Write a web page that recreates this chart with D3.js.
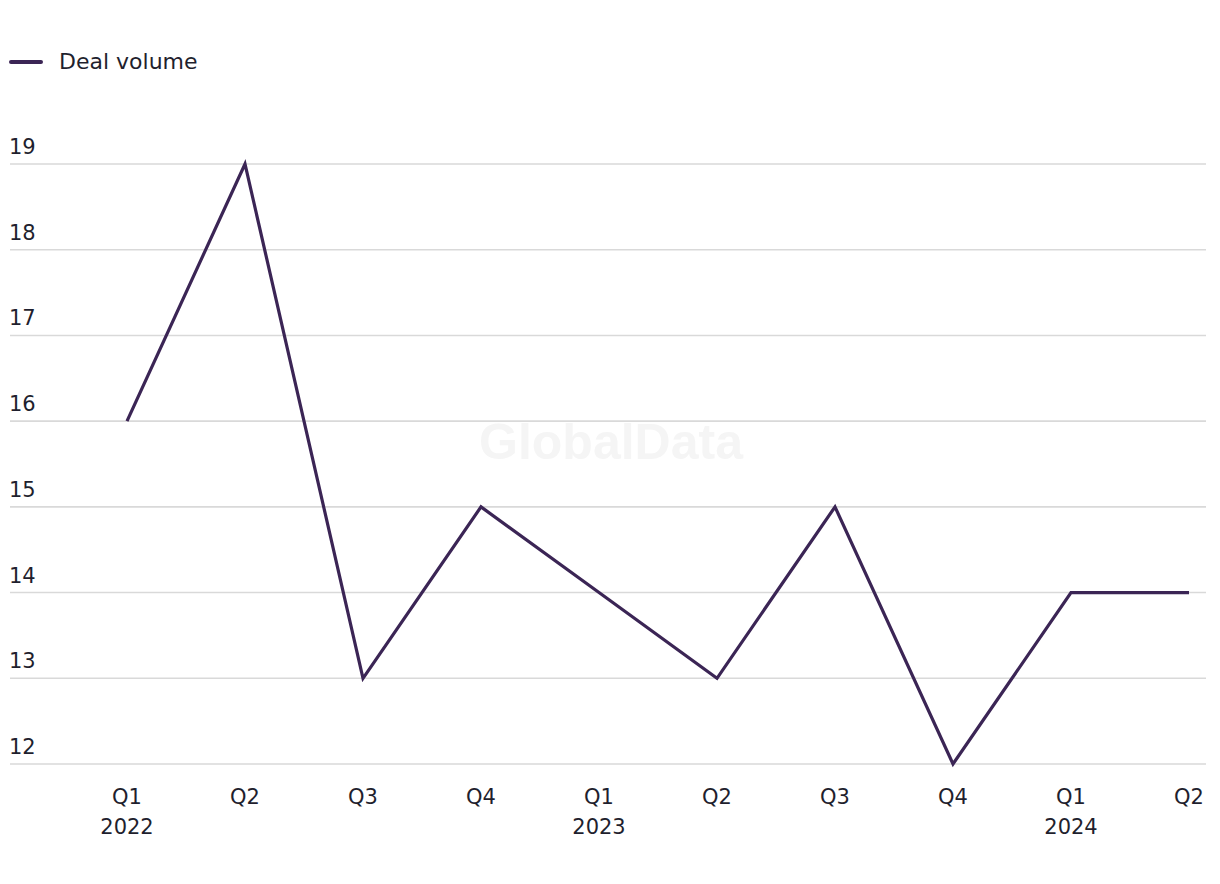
<!DOCTYPE html>
<html><head><meta charset="utf-8">
<script src="https://cdn.jsdelivr.net/npm/d3@7"></script>
<style>body{margin:0;background:#fff;} svg{display:block;font-family:"DejaVu Sans",sans-serif;}</style>
</head><body>
<svg id="chart" width="1220" height="884"></svg>
<script>
const quarters = ["Q1","Q2","Q3","Q4","Q1","Q2","Q3","Q4","Q1","Q2"];
const years = ["2022","","","","2023","","","","2024",""];
const dealVolume = [16,19,13,15,14,13,15,12,14,14];
const yTicks = [12,13,14,15,16,17,18,19];
const seriesName = "Deal volume";

const svg = d3.select("#chart");
const color = "#3b2555";
const textColor = "#1f1f2e";
const idx = d3.range(quarters.length);
const x = d3.scalePoint().domain(idx).range([127,1189]);
const y = d3.scaleLinear().domain([12,19]).range([764,164]);

// watermark
svg.append("text").attr("x",611).attr("y",459).attr("text-anchor","middle")
  .attr("font-family","Liberation Sans, Arial, sans-serif")
  .attr("font-size",50).attr("font-weight","bold").attr("fill","#f5f5f5").text("GlobalData");

// grid
svg.append("g").selectAll("line").data(yTicks).join("line")
  .attr("x1",10).attr("x2",1206).attr("y1",d=>y(d)).attr("y2",d=>y(d))
  .attr("stroke","#d9d9d9").attr("stroke-width",1.6);
svg.append("g").selectAll("text").data(yTicks).join("text")
  .attr("x",9).attr("y",d=>y(d)-10).attr("font-size",21).attr("fill",textColor).text(d=>d);

// x labels
const xg = svg.append("g");
xg.selectAll("text.q").data(idx).join("text").attr("class","q")
  .attr("x",d=>x(d)).attr("y",804).attr("text-anchor","middle").attr("font-size",21).attr("fill",textColor)
  .text(d=>quarters[d]);
xg.selectAll("text.yr").data(idx.filter(i=>years[i])).join("text").attr("class","yr")
  .attr("x",d=>x(d)).attr("y",834).attr("text-anchor","middle").attr("font-size",21).attr("fill",textColor)
  .text(d=>years[d]);

// line
svg.append("path").datum(idx)
  .attr("d",d3.line().x(i=>x(i)).y(i=>y(dealVolume[i])))
  .attr("fill","none").attr("stroke",color).attr("stroke-width",3.2).attr("stroke-linejoin","miter");

// legend
svg.append("line").attr("x1",11).attr("x2",41).attr("y1",62).attr("y2",62)
  .attr("stroke",color).attr("stroke-width",4).attr("stroke-linecap","round");
svg.append("text").attr("x",59).attr("y",69).attr("font-size",22).attr("fill",textColor).text(seriesName);
</script>
</body></html>
